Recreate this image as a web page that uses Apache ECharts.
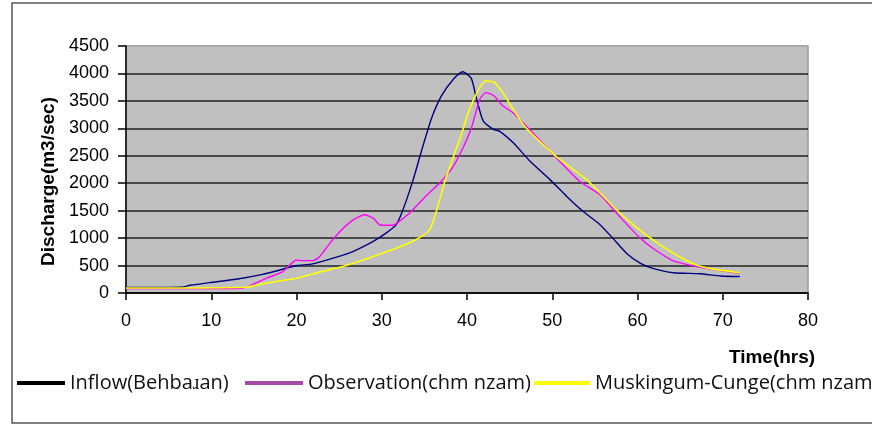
<!DOCTYPE html>
<html>
<head>
<meta charset="utf-8">
<script src="https://cdn.jsdelivr.net/npm/echarts@6/dist/echarts.min.js"></script>
<style>
  html, body { margin: 0; padding: 0; background: #fff; }
  #chart { width: 872px; height: 425px; }
</style>
</head>
<body>
<div id="chart"></div>
<script>
// hours / discharge
var inflowT = [0, 6.5, 7.5, 9.8, 12.9, 16, 18.8, 20, 21.9, 24.3, 26.6, 29, 30.5, 31.7, 32.5, 33.7, 34.6, 35.8, 37, 38.4, 39.5, 40.5, 41.1, 41.9, 43.1, 43.8, 45.4, 47.4, 49.7, 51.7, 53.6, 55.6, 57.1, 58.7, 60.3, 61.8, 64.2, 67.3, 69.8, 72];
var inflowQ = [100, 105, 140, 190, 250, 340, 450, 500, 530, 635, 755, 940, 1090, 1245, 1520, 2070, 2555, 3165, 3590, 3895, 4030, 3910, 3550, 3135, 2980, 2950, 2740, 2400, 2070, 1760, 1490, 1245, 1000, 725, 545, 450, 370, 350, 310, 300];

var obsT = [0, 8, 13.5, 14.5, 16.5, 18.4, 20, 20.6, 21.9, 22.7, 24.4, 26.4, 28, 29, 29.8, 31.3, 32.3, 33.3, 35.4, 36.8, 38.2, 39.4, 40.5, 41.5, 42.2, 43.2, 44.2, 45.4, 47.7, 50.1, 53.2, 55.6, 57.9, 60.3, 61.8, 64.2, 66.5, 68.1, 72];
var obsQ = [80, 80, 85, 130, 270, 390, 600, 590, 590, 660, 1000, 1305, 1425, 1365, 1240, 1235, 1335, 1460, 1800, 2005, 2260, 2600, 3000, 3530, 3650, 3590, 3410, 3285, 2920, 2525, 2035, 1790, 1395, 1000, 815, 585, 495, 450, 360];

var mcT = [0, 14, 16.8, 20, 22.7, 25.8, 29, 31.7, 34, 35.6, 36.4, 37.4, 38.4, 39.3, 40.3, 41.5, 42.2, 43.2, 44.2, 45.4, 46.9, 50.4, 54, 57.9, 61, 64.2, 66.9, 68.9, 72];
var mcQ = [90, 105, 190, 270, 380, 500, 665, 815, 970, 1150, 1485, 2030, 2480, 2870, 3350, 3745, 3865, 3835, 3650, 3350, 3010, 2495, 2070, 1460, 1060, 725, 510, 435, 370];

var seriesNames = ['Inflow(Behbaɹan)', 'Observation(chm nzam)', 'Muskingum-Cunge(chm nzam)'];
var lineColors = ['#000080', '#FF00FF', '#FFFF00'];
var legendColors = ['#000000', '#A64CA6', '#FFFF00'];
var legendLeft = [12, 240, 529];
var legendIconW = [48, 58, 56];

function pairs(t, q) {
  return t.map(function (v, i) { return [v, q[i]]; });
}

var splitColors = ['#222', '#222', '#222', '#222', '#222', '#222', '#222', '#222', '#222', '#A8A8A8'];

var myChart = echarts.init(document.getElementById('chart'));
myChart.setOption({
  animation: false,
  textStyle: { fontFamily: 'Liberation Sans' },
  graphic: [{
    type: 'rect',
    shape: { x: 12, y: 3, width: 900, height: 420 },
    style: { fill: 'none', stroke: '#555', lineWidth: 1.5 },
    z: -1
  }],
  grid: {
    left: 126, right: 64, top: 46, bottom: 132,
    show: true,
    backgroundColor: '#C0C0C0',
    borderColor: '#999',
    borderWidth: 1.5
  },
  legend: seriesNames.map(function (n, i) {
    return {
      data: [{ name: n, itemStyle: { color: legendColors[i] } }],
      left: legendLeft[i],
      top: 368,
      width: 700,
      icon: 'rect',
      itemWidth: legendIconW[i],
      itemHeight: 4,
      itemGap: 0,
      selectedMode: false,
      textStyle: { fontFamily: 'Open Sans', fontSize: 20, color: '#111' }
    };
  }),
  xAxis: {
    type: 'value',
    min: 0, max: 80, interval: 10,
    name: 'Time(hrs)',
    nameLocation: 'end',
    nameGap: -36,
    nameTextStyle: {
      fontSize: 19, fontWeight: 'bold', color: '#000',
      align: 'center', verticalAlign: 'top', padding: [55, 0, 0, 0]
    },
    axisLine: { lineStyle: { color: '#000', width: 1.5 } },
    axisTick: { length: 7, lineStyle: { color: '#000', width: 1.5 } },
    axisLabel: { margin: 19, fontSize: 18, color: '#000' },
    splitLine: { show: false }
  },
  yAxis: {
    type: 'value',
    min: 0, max: 4500, interval: 500,
    name: 'Discharge(m3/sec)',
    nameLocation: 'middle',
    nameGap: 68,
    nameTextStyle: { fontSize: 19, fontWeight: 'bold', color: '#000', padding: [0, 24, 0, 0] },
    axisLine: { show: true, lineStyle: { color: '#000', width: 1.5 } },
    axisTick: { show: true, length: 8, lineStyle: { color: '#000', width: 1.5 } },
    axisLabel: { margin: 17, fontSize: 18, color: '#000', formatter: function (v) { return String(v); } },
    splitLine: { show: true, lineStyle: { color: splitColors, width: 1.6 } }
  },
  series: [
    { name: seriesNames[0], type: 'line', data: pairs(inflowT, inflowQ), smooth: 0.2, showSymbol: false, lineStyle: { color: lineColors[0], width: 1.4 }, itemStyle: { color: lineColors[0] } },
    { name: seriesNames[1], type: 'line', data: pairs(obsT, obsQ), smooth: 0.2, showSymbol: false, lineStyle: { color: lineColors[1], width: 1.4 }, itemStyle: { color: lineColors[1] } },
    { name: seriesNames[2], type: 'line', data: pairs(mcT, mcQ), smooth: 0.2, showSymbol: false, lineStyle: { color: lineColors[2], width: 1.6 }, itemStyle: { color: lineColors[2] } }
  ]
});
</script>
</body>
</html>
